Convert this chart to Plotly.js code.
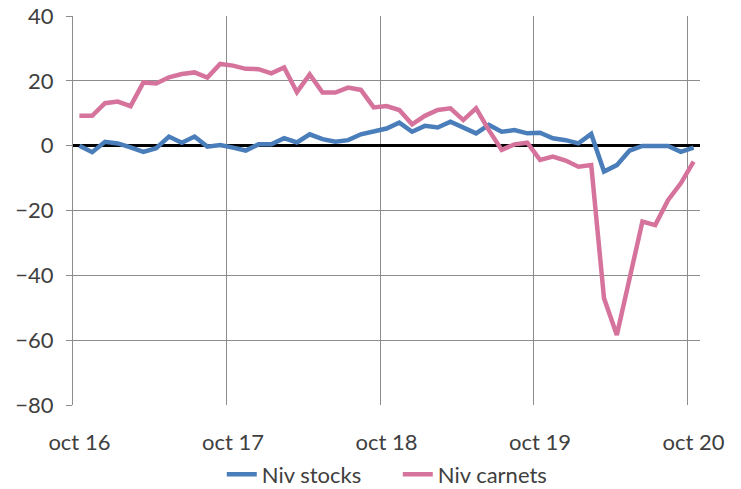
<!DOCTYPE html>
<html>
<head>
<meta charset="utf-8">
<script src="https://cdn.plot.ly/plotly-3.0.1.min.js"></script>
<style>html,body{margin:0;padding:0;background:#fff;}#chart{width:741px;height:489px;}</style>
</head>
<body>
<div id="chart"></div>
<script>
// Monthly observations, oct 16 (index 0) to oct 20 (index 48)
const months = Array.from({length: 49}, (_, i) => i);
const tickPositions = [0, 12, 24, 36, 48];
const tickLabels = ["oct 16", "oct 17", "oct 18", "oct 19", "oct 20"];
const gridPositions = [-0.5, 11.5, 23.5, 35.5, 47.5];

const nivStocks = [
  0, -2, 1.2, 0.7, -0.5, -1.9, -0.8, 2.8, 0.9, 2.8,
  -0.3, 0.2, -0.6, -1.5, 0.4, 0.4, 2.3, 1, 3.5, 2,
  1.2, 1.7, 3.5, 4.3, 5.3, 7.1, 4.3, 6.1, 5.6, 7.4,
  5.6, 3.8, 6.4, 4.3, 4.8, 3.8, 4, 2.3, 1.7, 0.7,
  3.6, -8, -6, -1.5, -0.1, -0.1, -0.1, -1.9, -0.6
];
const nivCarnets = [
  9.2, 9.2, 13.1, 13.6, 12.2, 19.5, 19.2, 21.1, 22.1, 22.6,
  21, 25.2, 24.7, 23.7, 23.6, 22.3, 24.1, 16.5, 22, 16.4,
  16.4, 17.9, 17.2, 11.8, 12.2, 11, 6.6, 9.2, 11, 11.5,
  7.9, 11.5, 4.8, -1.3, 0.4, 0.9, -4.4, -3.4, -4.6, -6.5,
  -6, -47.1, -58.4, -41.2, -23.4, -24.5, -16.8, -11.6, -4.9
];

const FONT = "Lato, 'Open Sans', sans-serif";
const traces = [
  {x: months, y: nivStocks, name: "Niv stocks", type: "scatter", mode: "lines",
   line: {color: "#4A7EBB", width: 4.5}},
  {x: months, y: nivCarnets, name: "Niv carnets", type: "scatter", mode: "lines",
   line: {color: "#D6739C", width: 4.5}}
];

const layout = {
  width: 741, height: 489,
  margin: {l: 73, r: 41, t: 16, b: 84},
  paper_bgcolor: "#fff", plot_bgcolor: "#fff",
  font: {family: FONT, size: 22, color: "#404040"},
  showlegend: true,
  legend: {orientation: "h", x: 0.518, xanchor: "center",
           yref: "container", y: 0.03, yanchor: "middle", entrywidth: 131,
           bgcolor: "rgba(0,0,0,0)",
           font: {family: FONT, size: 22, color: "#404040"}},
  xaxis: {
    range: [-0.5, 48.5], tickmode: "array", tickvals: tickPositions, ticktext: tickLabels,
    showgrid: false, zeroline: false, showline: false, ticks: "", ticklabelstandoff: 22,
    automargin: false,
    minor: {tickmode: "array", tickvals: gridPositions, ticks: "", showgrid: true,
            gridcolor: "#8c8c8c", gridwidth: 1}
  },
  yaxis: {
    range: [-80, 40], dtick: 20, tick0: 0, showgrid: true, gridcolor: "#8c8c8c", gridwidth: 1,
    zeroline: true, zerolinecolor: "#000", zerolinewidth: 2.5,
    showline: true, linecolor: "#8c8c8c", linewidth: 1, automargin: false,
    ticks: "outside", ticklen: 6, tickcolor: "#8c8c8c", ticklabelstandoff: 8
  }
};

Plotly.newPlot("chart", traces, layout, {displayModeBar: false, staticPlot: true});
</script>
</body>
</html>
